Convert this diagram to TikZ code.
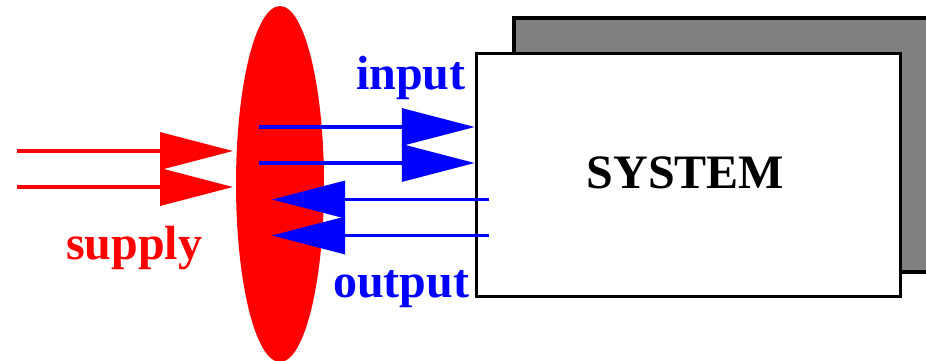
\documentclass[tikz,border=0pt]{standalone}
\usepackage{fontspec}
\setmainfont{Liberation Serif}
\usetikzlibrary{arrows.meta,shapes.geometric}
\tikzset{
  bigtip/.style={-{Triangle[length=73pt,width=37pt]}},
  redline/.style={draw=red,line width=3.5pt,bigtip},
  blueline/.style={draw=blue,line width=3.3pt,bigtip},
  lbl/.style={font=\bfseries\fontsize{48}{48}\selectfont,inner sep=0pt,anchor=base west},
  boxline/.style={draw=black,line width=3.5pt}
}
\begin{document}
\begin{tikzpicture}[x=1pt,y=-1pt]
\useasboundingbox (0,0) rectangle (926,360);
\clip (0,0) rectangle (926,360);
% shadow box
\path[boxline,fill={rgb,255:red,128;green,128;blue,128}] (514,18) rectangle (960,272);
% system box
\node[boxline,fill=white,minimum width=424pt,minimum height=243pt,inner sep=0pt] (sys) at (688.5,175) {};
\node[lbl,anchor=base] (systxt) at (685.5,188) {SYSTEM};
% lens
\node[ellipse,fill=red,draw=none,minimum width=88pt,minimum height=356pt,inner sep=0pt] (lens) at (280,184) {};
% supply arrows
\coordinate (s1) at (17,151);
\coordinate (s2) at (17,187);
\coordinate (s1e) at (233,151);
\coordinate (s2e) at (233,187);
\draw[redline] (s1) -- (s1e);
\draw[redline] (s2) -- (s2e);
% input arrows
\coordinate (i1) at (259,127);
\coordinate (i2) at (259,163);
\draw[blueline] (i1) -- (i1 -| sys.west);
\draw[blueline] (i2) -- (i2 -| sys.west);
% output arrows
\coordinate (o1) at (489,199.5);
\coordinate (o2) at (489,235.5);
\coordinate (o1e) at (272,199.5);
\coordinate (o2e) at (272,235.5);
\draw[blueline] (o1) -- (o1e);
\draw[blueline] (o2) -- (o2e);
% labels
\node[lbl,text=blue] (inlbl) at (356,89) {input};
\node[lbl,text=blue] (outlbl) at (333,297) {output};
\node[lbl,text=red] (suplbl) at (66,259) {supply};
\end{tikzpicture}
\end{document}
